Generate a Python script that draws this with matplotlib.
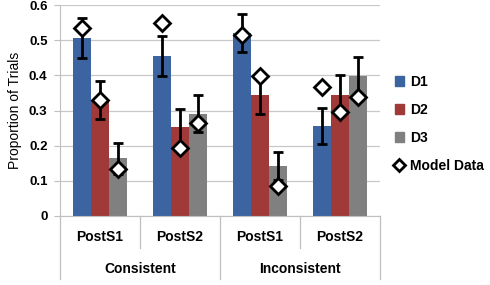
import matplotlib
matplotlib.use("Agg")
import matplotlib.pyplot as plt
from matplotlib.lines import Line2D
from matplotlib.patches import Patch
import numpy as np

plt.rcParams['font.family'] = ['Liberation Sans', 'DejaVu Sans']

# data
groups = ["PostS1", "PostS2", "PostS1", "PostS2"]
conditions = ["Consistent", "Inconsistent"]
series = ["D1", "D2", "D3"]
d1 = [0.506, 0.456, 0.520, 0.255]
d2 = [0.331, 0.252, 0.345, 0.345]
d3 = [0.164, 0.291, 0.142, 0.397]
d1_err = [0.057, 0.057, 0.054, 0.051]
d2_err = [0.054, 0.053, 0.054, 0.055]
d3_err = [0.044, 0.052, 0.040, 0.055]
model_d1 = [0.536, 0.548, 0.516, 0.366]
model_d2 = [0.331, 0.193, 0.399, 0.295]
model_d3 = [0.133, 0.264, 0.085, 0.338]

colors = ["#3B64A0", "#A03A38", "#808080"]

fig = plt.figure(figsize=(4.9, 2.85), dpi=100)
ax = fig.add_axes([60/490, 1-216/285, 320/490, 211/285])

x = np.arange(len(groups))
w = 0.225
vals = [d1, d2, d3]
errs = [d1_err, d2_err, d3_err]
models = [model_d1, model_d2, model_d3]
for i in range(3):
    xi = x + (i-1)*w
    ax.bar(xi, vals[i], w, color=colors[i], zorder=2)
    ax.errorbar(xi, vals[i], yerr=errs[i], fmt='none', ecolor='black',
                elinewidth=2, capsize=3.5, capthick=2, zorder=3)
    ax.plot(xi, models[i], 'D', ms=8, mfc='white', mec='black', mew=2,
            ls='none', zorder=4)

ax.set_xlim(-0.5, 3.5)
ax.set_ylim(0, 0.6)
ax.set_yticks(np.arange(0, 0.61, 0.1))
ax.set_yticklabels(["0", "0.1", "0.2", "0.3", "0.4", "0.5", "0.6"],
                   fontweight='bold', fontsize=9.5)
ax.yaxis.grid(True, color='#C8C8C8', lw=0.9, zorder=0)
ax.set_axisbelow(True)
for s in ['top', 'right']:
    ax.spines[s].set_visible(False)
ax.spines['left'].set_color('#BFBFBF')
ax.spines['bottom'].set_color('#BFBFBF')
ax.tick_params(axis='y', length=4, color='#BFBFBF', pad=5)
ax.set_xticks([])
ax.set_ylabel("Proportion of Trials", fontsize=10, labelpad=5)

# multi level category axis
tr = ax.get_xaxis_transform()
for i, g in enumerate(groups):
    ax.text(x[i], -0.10, g, transform=tr, ha='center', va='center',
            fontsize=10, fontweight='bold')
for j, c in enumerate(conditions):
    ax.text(2*j + 0.5, -0.253, c, transform=tr, ha='center', va='center',
            fontsize=10, fontweight='bold')
for xs, depth in [(-0.5, -0.30), (0.5, -0.152), (1.5, -0.30),
                  (2.5, -0.152), (3.5, -0.30)]:
    ax.plot([xs, xs], [0, depth], transform=tr, color='#BFBFBF', lw=0.9,
            clip_on=False)

handles = [Patch(color=colors[i], label=series[i]) for i in range(3)]
handles.append(Line2D([], [], marker='D', ls='none', ms=6, mfc='white',
                      mec='black', mew=2, label="Model Data"))
leg = fig.legend(handles=handles, loc='center left',
                 bbox_to_anchor=(382/490, 1-124/285), frameon=False,
                 prop={'weight': 'bold', 'size': 10}, handlelength=0.7,
                 handleheight=0.7, handletextpad=0.4, labelspacing=1.0)

fig.savefig("out.png", dpi=100)
